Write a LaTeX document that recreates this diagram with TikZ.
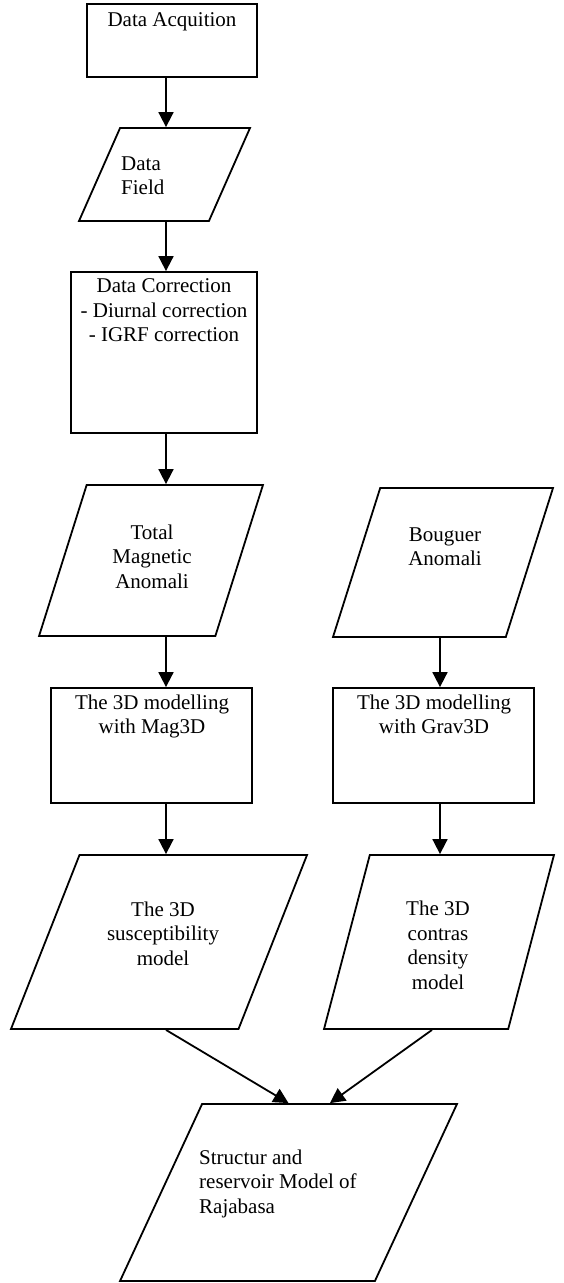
\documentclass[tikz,border=0pt]{standalone}
\usepackage{fontspec}
\setmainfont{Liberation Serif}
\usetikzlibrary{shapes.geometric,arrows.meta}

\newcommand{\flowfont}{\fontsize{21pt}{24.5pt}\selectfont}

\tikzset{
  procbox/.style={draw, line width=1.8pt, inner sep=0pt},
  iobox/.style={trapezium, draw, line width=1.8pt, inner sep=2pt,
    trapezium stretches=true,
    trapezium left angle=#1, trapezium right angle={180-#1}},
  flowtext/.style={font=\flowfont, align=center, anchor=north, inner sep=0pt},
  flow/.style={-{Triangle[length=15pt,width=15pt]}, line width=1.8pt},
}

\begin{document}
\begin{tikzpicture}[x=1pt, y=-1pt]
  \useasboundingbox (0,0) rectangle (564,1283);

  % columns of the arrows
  \coordinate (colL) at (166,0);
  \coordinate (colR) at (440,0);

  % left column
  \node[procbox, minimum width=170pt, minimum height=73pt] (acq) at (172,40.5) {};
  \node[flowtext] (acqtxt) at (172,12.5) {Data Acquition};

  \node[iobox=65.2, minimum width=171pt, minimum height=93pt] (field) at (164.5,174.5) {};
  \node[flowtext, anchor=north west, align=left] (fieldtxt) at (121,156.5) {Data\\Field};

  \node[procbox, minimum width=186pt, minimum height=161pt] (corr) at (164,352.5) {};
  \node[flowtext] (corrtxt) at (164,278.5) {Data Correction\\- Diurnal correction\\- IGRF correction};

  \node[iobox=69.7, minimum width=224pt, minimum height=151pt] (total) at (151,560.5) {};
  \node[flowtext] (totaltxt) at (152,524.5) {Total\\Magnetic\\Anomali};

  \node[procbox, minimum width=201pt, minimum height=115pt] (mag) at (151.5,745.5) {};
  \node[flowtext] (magtxt) at (152,694.5) {The 3D modelling\\with Mag3D};

  \node[iobox=66.7, minimum width=296pt, minimum height=174pt] (susc) at (159,942) {};
  \node[flowtext] (susctxt) at (163,901.5) {The 3D\\susceptibility\\model};

  % right column
  \node[iobox=69.4, minimum width=220pt, minimum height=149pt] (bouguer) at (443,562.5) {};
  \node[flowtext] (bouguertxt) at (445,527.5) {Bouguer\\Anomali};

  \node[procbox, minimum width=201pt, minimum height=115pt] (grav) at (433.5,745.5) {};
  \node[flowtext] (gravtxt) at (434,694.5) {The 3D modelling\\with Grav3D};

  \node[iobox=71.7, minimum width=230pt, minimum height=174pt] (contras) at (439,942) {};
  \node[flowtext] (contrastxt) at (438,901) {The 3D\\contras\\density\\model};

  % result
  \node[iobox=64.6, minimum width=337pt, minimum height=177pt] (final) at (288.5,1192.5) {};
  \node[flowtext, anchor=north west, align=left] (finaltxt) at (199,1149.5) {Structur and\\reservoir Model of\\Rajabasa};

  % arrows
  \draw[flow] (acq.south -| colL) -- (field.north -| colL);
  \draw[flow] (field.south -| colL) -- (corr.north -| colL);
  \draw[flow] (corr.south -| colL) -- (total.north -| colL);
  \draw[flow] (total.south -| colL) -- (mag.north -| colL);
  \draw[flow] (mag.south -| colL) -- (susc.north -| colL);
  \draw[flow] (bouguer.south -| colR) -- (grav.north -| colR);
  \draw[flow] (grav.south -| colR) -- (contras.north -| colR);
  \draw[flow] (susc.south -| colL) -- (final.north);
  \draw[flow] ([xshift=-7pt]contras.south) -- (final.top side);
\end{tikzpicture}
\end{document}
